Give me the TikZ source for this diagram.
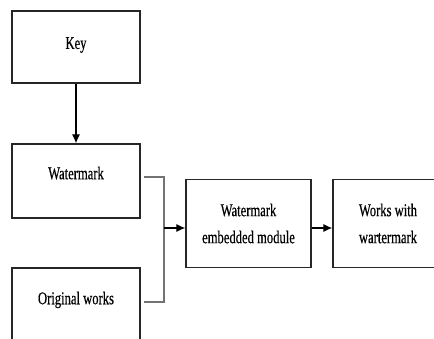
\documentclass[tikz,border=0pt]{standalone}
\usepackage{fontspec}
\setmainfont{Liberation Serif}[FakeStretch = 0.7, FakeBold = 0.4]
\usetikzlibrary{arrows.meta}

\begin{document}
\begin{tikzpicture}[%
        x = 1pt, y = -1pt,
        block/.style = {%
            draw = black!85,
            line width = 1.2pt,
            fill = white,
            align = center,
            inner sep = 0pt,
            font = \fontsize{18}{27}\selectfont
        },
        feed/.style = {%
            draw = black!55,
            line width = 1.1pt
        },
        arr/.style = {%
            draw = black,
            line width = 1.1pt,
            -{Latex[length = 9pt, width = 8pt]}
        }
    ]

        % Fix the frame of the page.
        \useasboundingbox (0, 0) rectangle (434, 338);
        \clip (0, 0) rectangle (434, 338);

        % Boxes on the left.
        \node[block, minimum width = 128, minimum height = 72, text depth = 8pt]
            (key) at (76, 47) {Key};
        \node[block, minimum width = 128, minimum height = 74, text depth = 16pt]
            (wm) at (76, 181) {Watermark};
        \node[block, minimum width = 128, minimum height = 74, text depth = 14pt]
            (orig) at (76, 305) {Original works};

        % Boxes on the right.
        \node[block, minimum width = 125, minimum height = 88]
            (embed) at (248.5, 223.5) {Watermark\\embedded module};
        \node[block, minimum width = 110, minimum height = 88]
            (works) at (388, 223.5) {Works with\\wartermark};

        % Point where the two inputs meet.
        \coordinate (bus) at (164, 228);

        % Gray lines joining the inputs.
        \draw[feed] ([xshift = 3pt, yshift = 4pt]wm.east) -| (bus)
            |- ([xshift = 3pt, yshift = 3pt]orig.east);

        % Arrows.
        \draw[arr] (key) -- (wm);
        \draw[arr] (bus) -- (embed.west |- bus);
        \draw[arr] (embed.east |- bus) -- (works.west |- bus);
    \end{tikzpicture}
\end{document}
